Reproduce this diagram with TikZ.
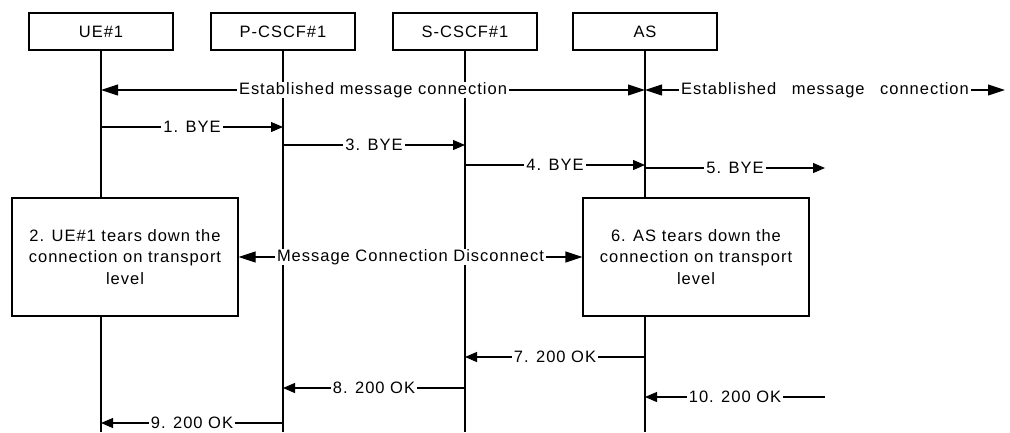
\documentclass[tikz,border=0pt]{standalone}
\usepackage{fontspec}
\setmainfont{Liberation Sans}[LetterSpace=6]
\usetikzlibrary{arrows.meta}
\definecolor{ink}{HTML}{000000}

\tikzset{
  entity/.style={draw=ink,line width=1.1pt,minimum width=144pt,minimum height=37pt,inner sep=0pt},
  action/.style={draw=ink,line width=1.1pt,minimum width=226pt,minimum height=118pt,align=center,inner sep=0pt},
  life/.style={draw=ink,line width=1.1pt},
  msg/.style={draw=ink,line width=1.1pt,-{Triangle[length=12pt,width=10pt]}},
  conn/.style={draw=ink,line width=1.1pt,{Triangle[length=17pt,width=11pt]}-{Triangle[length=17pt,width=11pt]}},
  lbl/.style={fill=white,text=ink,inner xsep=2pt,inner ysep=.5pt}
}

\begin{document}
\begin{tikzpicture}[x=1pt,y=-1pt,line cap=butt,font=\fontsize{16.5}{21.5}\selectfont]
  \path[use as bounding box] (0,0) rectangle (1010,432);
  \fill[white] (0,0) rectangle (1010,432);

  \node[entity] (ue) at (101,31.5) {UE\#1};
  \node[entity] (pcscf) at (283,31.5) {P-CSCF\#1};
  \node[entity] (scscf) at (465,31.5) {S-CSCF\#1};
  \node[entity] (as) at (645,31.5) {AS};

  \node[action] (uetd) at (125,257) {2. UE\#1 tears down the\\connection on transport\\level};
  \node[action] (astd) at (696,257) {6. AS tears down the\\connection on transport\\level};

  \coordinate (r0) at (0,90);
  \coordinate (r1) at (0,127);
  \coordinate (r3) at (0,145);
  \coordinate (r4) at (0,165);
  \coordinate (r5) at (0,168);
  \coordinate (r7) at (0,357);
  \coordinate (r8) at (0,388);
  \coordinate (r10) at (0,397);
  \coordinate (r9) at (0,423);
  \coordinate (bot) at (0,432);
  \coordinate (ext) at (825,0);
  \coordinate (far) at (1005,0);

  \draw[life] (ue.south) -- (ue.south |- uetd.north);
  \draw[life] (ue.south |- uetd.south) -- (ue.south |- bot);
  \draw[life] (pcscf.south) -- (pcscf.south |- bot);
  \draw[life] (scscf.south) -- (scscf.south |- bot);
  \draw[life] (as.south) -- (as.south |- astd.north);
  \draw[life] (as.south |- astd.south) -- (as.south |- bot);

  \draw[conn] (ue |- r0) -- node[lbl] {Established message connection} (as |- r0);
  \draw[conn] (as |- r0) -- node[lbl] {Established\hspace{.6em} message\hspace{.6em} connection} (far |- r0);

  \draw[msg] (ue |- r1) -- node[lbl] {1. BYE} (pcscf |- r1);
  \draw[msg] (pcscf |- r3) -- node[lbl] {3. BYE} (scscf |- r3);
  \draw[msg] (scscf |- r4) -- node[lbl] {4. BYE} (as |- r4);
  \draw[msg] (as |- r5) -- node[lbl] {5. BYE} (ext |- r5);

  \draw[conn] (uetd.east) -- node[lbl] {Message Connection Disconnect} (astd.west);

  \draw[msg] (as |- r7) -- node[lbl] {7. 200 OK} (scscf |- r7);
  \draw[msg] (scscf |- r8) -- node[lbl] {8. 200 OK} (pcscf |- r8);
  \draw[msg] (ext |- r10) -- node[lbl] {10. 200 OK} (as |- r10);
  \draw[msg] (pcscf |- r9) -- node[lbl] {9. 200 OK} (ue |- r9);
\end{tikzpicture}
\end{document}
